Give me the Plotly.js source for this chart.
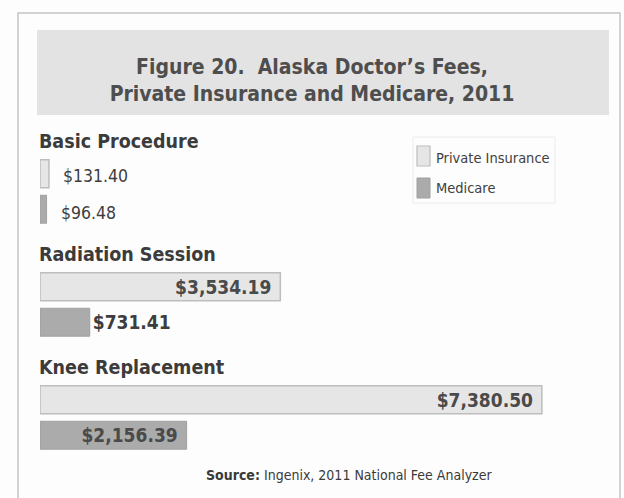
<!DOCTYPE html>
<html>
<head>
<meta charset="utf-8">
<script src="https://cdn.plot.ly/plotly-3.0.1.min.js"></script>
<style>
  html, body { margin: 0; padding: 0; background: #fdfdfd; }
  #chart { width: 624px; height: 498px; }
</style>
</head>
<body>
<div id="chart"></div>
<script>
// ---- data ----
const categories = ['Basic Procedure', 'Radiation Session', 'Knee Replacement'];
const privateInsurance = [131.40, 3534.19, 7380.50];
const medicare = [96.48, 731.41, 2156.39];
const seriesNames = ['Private Insurance', 'Medicare'];
const titleLines = ['Figure 20.  Alaska Doctor\u2019s Fees,', 'Private Insurance and Medicare, 2011'];
const sourceLabel = 'Source:';
const sourceText = 'Ingenix, 2011 National Fee Analyzer';

// ---- styling / geometry ----
const W = 624, H = 498;
const M = { l: 40, r: 15, t: 135, b: 17 };
const plotW = W - M.l - M.r, plotH = H - M.t - M.b;
const pxPerDollar = 0.068;
const xMax = plotW / pxPerDollar;
const FONT = '"DejaVu Sans Condensed", "Liberation Sans Narrow", "Arial Narrow", sans-serif';
const privColor = '#e6e6e6', privLine = '#bdbdbd';
const medColor = '#ababab', medLine = '#a0a0a0';
const px2x = p => (p - M.l) / plotW;
const py2y = p => (H - M.b - p) / plotH;

const fmt = v => '$' + v.toLocaleString('en-US', { minimumFractionDigits: 2, maximumFractionDigits: 2 });

// Basic procedure values are labelled by annotations (index 0), others by trace text
const privPos = ['none', 'inside', 'inside'];
const medPos = ['none', 'outside', 'inside'];

const traces = [
  {
    type: 'bar', orientation: 'h', name: seriesNames[0],
    y: categories, x: privateInsurance,
    marker: { color: privColor, line: { color: privLine, width: 1.5 } },
    text: privateInsurance.map(v => '<b>' + fmt(v) + '\u00a0</b>'),
    textposition: privPos, insidetextanchor: 'end', constraintext: 'none',
    insidetextfont: { family: FONT, size: 19, color: '#4a4a4a' },
    outsidetextfont: { family: FONT, size: 19, color: '#3d3d3d' },
    hoverinfo: 'x+name', cliponaxis: false
  },
  {
    type: 'bar', orientation: 'h', name: seriesNames[1],
    y: categories, x: medicare,
    marker: { color: medColor, line: { color: medLine, width: 1 } },
    text: medicare.map((v, i) => '<b>' + fmt(v) + (medPos[i] === 'inside' ? '\u00a0' : '') + '</b>'),
    textposition: medPos, insidetextanchor: 'end', constraintext: 'none',
    insidetextfont: { family: FONT, size: 19, color: '#4a4a4a' },
    outsidetextfont: { family: FONT, size: 19, color: '#3d3d3d' },
    hoverinfo: 'x+name', cliponaxis: false
  }
];

const annotations = [];
// category headers
categories.forEach(c => annotations.push({
  xref: 'paper', x: 0, xanchor: 'left', xshift: -3,
  yref: 'y', y: c, yanchor: 'middle', yshift: 50,
  text: '<b>' + c + '</b>', showarrow: false,
  font: { family: FONT, size: 19.5, color: '#3b3b3b' }
}));
// basic procedure labels (outside, regular weight)
annotations.push({
  xref: 'x', x: privateInsurance[0], xanchor: 'left', xshift: 12,
  yref: 'y', y: categories[0], yanchor: 'middle', yshift: 16,
  text: fmt(privateInsurance[0]), showarrow: false,
  font: { family: FONT, size: 17.5, color: '#3d3d3d' }
});
annotations.push({
  xref: 'x', x: medicare[0], xanchor: 'left', xshift: 12,
  yref: 'y', y: categories[0], yanchor: 'middle', yshift: -21,
  text: fmt(medicare[0]), showarrow: false,
  font: { family: FONT, size: 17.5, color: '#3d3d3d' }
});
// legend (manual)
annotations.push({
  xref: 'paper', x: px2x(434), xanchor: 'left', yref: 'paper', y: py2y(158), yanchor: 'middle',
  text: seriesNames[0], showarrow: false, font: { family: FONT, size: 14.5, color: '#404040' }
});
annotations.push({
  xref: 'paper', x: px2x(434), xanchor: 'left', yref: 'paper', y: py2y(188), yanchor: 'middle',
  text: seriesNames[1], showarrow: false, font: { family: FONT, size: 14.5, color: '#404040' }
});
// source
annotations.push({
  xref: 'paper', x: px2x(349), xanchor: 'center', yref: 'paper', y: py2y(475), yanchor: 'middle',
  text: '<b>' + sourceLabel + '</b> ' + sourceText, showarrow: false,
  font: { family: FONT, size: 14, color: '#3a3a3a' }
});

const shapes = [
  // outer frame
  { type: 'rect', xref: 'paper', yref: 'paper', x0: px2x(18), x1: px2x(620), y0: py2y(505), y1: py2y(13),
    line: { color: '#c4c4c4', width: 1.5 }, fillcolor: 'rgba(0,0,0,0)', layer: 'below' },
  // title band
  { type: 'rect', xref: 'paper', yref: 'paper', x0: px2x(37), x1: px2x(609), y0: py2y(115), y1: py2y(30),
    line: { width: 0 }, fillcolor: '#e3e3e3', layer: 'below' },
  // legend box
  { type: 'rect', xref: 'paper', yref: 'paper', x0: px2x(413), x1: px2x(555), y0: py2y(203), y1: py2y(137),
    line: { color: '#ececec', width: 1 }, fillcolor: 'rgba(0,0,0,0)', layer: 'below' },
  // legend swatches
  { type: 'rect', xref: 'paper', yref: 'paper', x0: px2x(417), x1: px2x(430), y0: py2y(166), y1: py2y(146),
    line: { color: privLine, width: 1.2 }, fillcolor: privColor },
  { type: 'rect', xref: 'paper', yref: 'paper', x0: px2x(417), x1: px2x(430), y0: py2y(198), y1: py2y(178),
    line: { color: medLine, width: 1 }, fillcolor: medColor }
];

const layout = {
  width: W, height: H,
  margin: M,
  paper_bgcolor: '#fdfdfd', plot_bgcolor: 'rgba(0,0,0,0)',
  showlegend: false,
  barmode: 'group', bargap: 0.372, bargroupgap: 0.213,
  title: {
    text: '<b>' + titleLines.join('<br>') + '</b>',
    font: { family: FONT, size: 21, color: '#4e4e4e' },
    xref: 'container', x: 0.5, xanchor: 'center',
    yref: 'container', y: 1 - 74 / H, yanchor: 'middle'
  },
  xaxis: { range: [0, xMax], showgrid: false, zeroline: false, showticklabels: false, showline: false, ticks: '' },
  yaxis: { type: 'category', autorange: 'reversed', showgrid: false, zeroline: false, showticklabels: false, showline: false, ticks: '' },
  annotations: annotations,
  shapes: shapes
};

Plotly.newPlot('chart', traces, layout, { displayModeBar: false, staticPlot: true });
</script>
</body>
</html>
